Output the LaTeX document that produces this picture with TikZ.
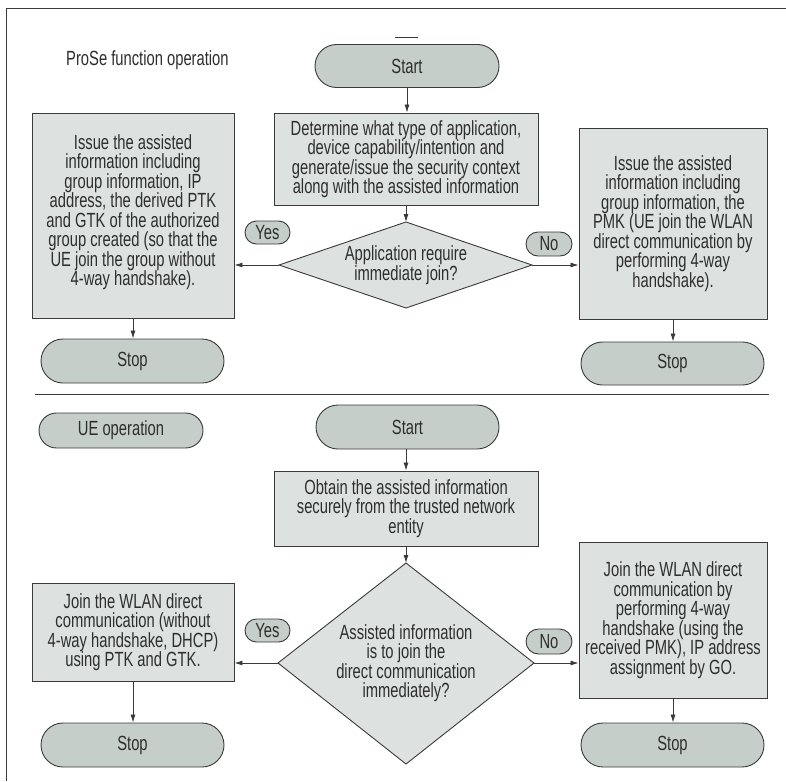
\documentclass[tikz,border=0pt]{standalone}
\usepackage{fontspec}
\setmainfont[FakeStretch=0.72]{Liberation Sans}
\usetikzlibrary{arrows.meta,shapes.misc}
\definecolor{boxfill}{HTML}{DDE2E0}
\definecolor{termfill}{HTML}{C6CECA}
\definecolor{linec}{HTML}{3A3A3A}
\definecolor{txtc}{HTML}{2E2E2E}
\tikzset{
  proc/.style={draw=linec, fill=boxfill, line width=0.9pt, inner sep=0pt, align=center},
  term/.style={rounded rectangle, draw=linec, fill=termfill, line width=0.9pt, inner sep=0pt, align=center},
  dia/.style={draw=linec, fill=boxfill, line width=0.9pt},
  plain/.style={inner sep=0pt, align=center},
  arr/.style={draw=linec, line width=0.8pt, -{Latex[length=8pt,width=5pt]}},
  rule/.style={draw=linec, line width=0.9pt}
}
\begin{document}
\begin{tikzpicture}[x=1pt,y=-1pt,font=\fontsize{20.5}{19.5}\selectfont,text=txtc]
\useasboundingbox (0,0) rectangle (786,781);
% frame
\coordinate (fb) at (6,781);
\coordinate (ftl) at (6,8);
\coordinate (ftr) at (786,8);
\draw[rule] (fb) -- (ftl) -- (ftr);
\coordinate (ma) at (395,37);
\coordinate (mb) at (418,37);
\draw[rule] (ma) -- (mb);

% ---- ProSe function operation ----
\node[plain, anchor=west] (title1) at (66,60) {ProSe function operation};
\node[term, minimum width=184pt, minimum height=43pt] (s1) at (407,66) {Start};
\node[proc, minimum width=264pt, minimum height=92pt] (b1) at (406,159)
  {Determine what type of application,\\device capability/intention and\\generate/issue the security context\\along with the assisted information};
\coordinate (d1t) at (406,222);
\coordinate (d1r) at (532,265);
\coordinate (d1b) at (406,308);
\coordinate (d1l) at (279,265);
\draw[dia] (d1t) -- (d1r) -- (d1b) -- (d1l) -- cycle;
\node[plain] (d1) at (406,265) {Application require\\immediate join?};
\node[proc, minimum width=202pt, minimum height=205pt, text depth=11pt] (L1) at (133,215.5)
  {Issue the assisted\\information including\\group information, IP\\address, the derived PTK\\and GTK of the authorized\\group created (so that the\\UE join the group without\\4-way handshake).};
\node[proc, minimum width=188pt, minimum height=191pt] (R1) at (673,223.5)
  {Issue the assisted\\information including\\group information, the\\PMK (UE join the WLAN\\direct communication by\\performing 4-way\\handshake).};
\node[term, minimum width=45pt, minimum height=23pt] (y1) at (267.5,232.5) {Yes};
\node[term, minimum width=46pt, minimum height=24pt] (n1) at (549,244) {No};
\node[term, minimum width=183pt, minimum height=44pt] (t1) at (132.5,361) {Stop};
\node[term, minimum width=183pt, minimum height=43pt] (t2) at (672.5,363.5) {Stop};

\draw[arr] (s1.south) -- (s1.south |- b1.north);
\draw[arr] (b1.south -| d1t) -- (d1t);
\draw[arr] (d1l) -- (d1l -| L1.east);
\draw[arr] (d1r) -- (d1r -| R1.west);
\draw[arr] (L1.south) -- (L1.south |- t1.north);
\draw[arr] (R1.south) -- (R1.south |- t2.north);

% separator
\coordinate (sepL) at (35,394);
\coordinate (sepR) at (769,394);
\draw[rule] (sepL) -- (sepR);

% ---- UE operation ----
\node[term, minimum width=164pt, minimum height=35pt] (ue) at (121,430.5) {UE operation};
\node[term, minimum width=183pt, minimum height=44pt] (s2) at (407.5,427) {Start};
\node[proc, minimum width=264pt, minimum height=75pt] (b2) at (406,508.5)
  {Obtain the assisted information\\securely from the trusted network\\entity};
\coordinate (d2t) at (406,563);
\coordinate (d2r) at (534,663);
\coordinate (d2b) at (406,764);
\coordinate (d2l) at (278,663);
\draw[dia] (d2t) -- (d2r) -- (d2b) -- (d2l) -- cycle;
\node[plain] (d2) at (406,663) {Assisted information\\is to join the\\direct communication\\immediately?};
\node[proc, minimum width=202pt, minimum height=98pt] (L2) at (133,632)
  {Join the WLAN direct\\communication (without\\4-way handshake, DHCP)\\using PTK and GTK.};
\node[proc, minimum width=188pt, minimum height=156pt] (R2) at (673,620)
  {Join the WLAN direct\\communication by\\performing 4-way\\handshake (using the\\received PMK), IP address\\assignment by GO.};
\node[term, minimum width=45pt, minimum height=23pt] (y2) at (267.5,630.5) {Yes};
\node[term, minimum width=46pt, minimum height=25pt] (n2) at (549,641.5) {No};
\node[term, minimum width=183pt, minimum height=44pt] (t3) at (132.5,745) {Stop};
\node[term, minimum width=183pt, minimum height=44pt] (t4) at (672.5,745) {Stop};

\draw[arr] (s2.south -| b2.north) -- (b2.north);
\draw[arr] (b2.south -| d2t) -- (d2t);
\draw[arr] (d2l) -- (d2l -| L2.east);
\draw[arr] (d2r) -- (d2r -| R2.west);
\draw[arr] (L2.south) -- (L2.south |- t3.north);
\draw[arr] (R2.south) -- (R2.south |- t4.north);
\end{tikzpicture}
\end{document}
